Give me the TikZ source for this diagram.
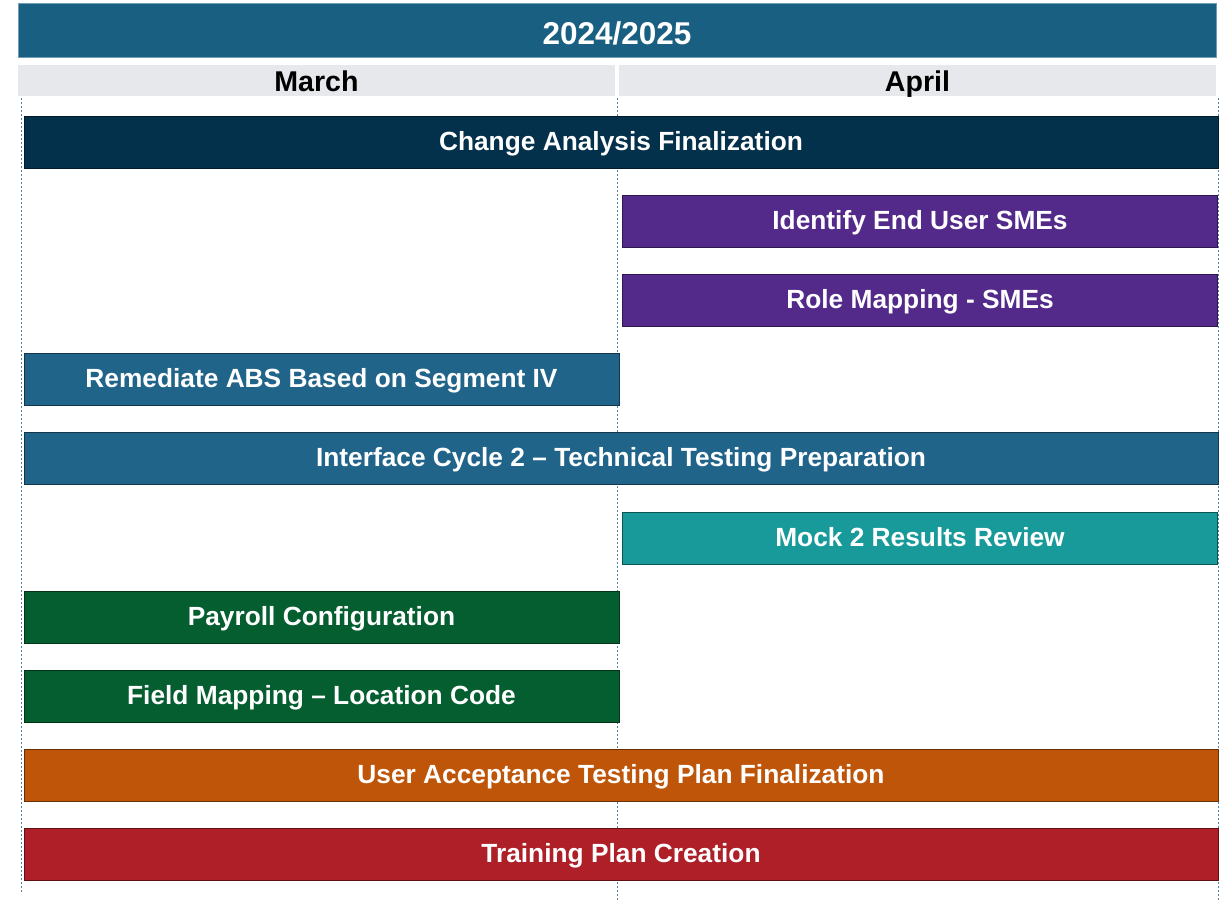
\documentclass[tikz,border=0pt]{standalone}
\usepackage{fontspec}
\setmainfont{Liberation Sans}
\usepackage{xcolor}
\definecolor{headerBlue}{HTML}{185F82}
\definecolor{headerEdge}{HTML}{6E9DB6}
\definecolor{headerGrey}{HTML}{E6E8EB}
\definecolor{gridLine}{HTML}{4F86A3}
\definecolor{barNavy}{HTML}{03304B}
\definecolor{barPurple}{HTML}{53298A}
\definecolor{barSteel}{HTML}{21648A}
\definecolor{barTeal}{HTML}{18999A}
\definecolor{barGreen}{HTML}{055E30}
\definecolor{barOrange}{HTML}{BE5508}
\definecolor{barRed}{HTML}{AE1F28}
\usetikzlibrary{calc, positioning}

\tikzset{
  taskbar/.style={fill=#1, draw=#1!55!black, line width=1pt, inner sep=0pt, outer sep=0pt,
    minimum height=52pt, text=white, text height=17.4pt, text depth=0pt,
    font=\fontsize{26.3}{30}\selectfont\bfseries},
  fullbar/.style={taskbar=#1, minimum width=1194pt},
  halfbar/.style={taskbar=#1, minimum width=595pt},
  monthcell/.style={fill=headerGrey, inner sep=0pt, minimum width=597pt, minimum height=31pt,
    text height=21pt, text depth=0pt,
    font=\fontsize{28.6}{30}\selectfont\bfseries},
  gridrule/.style={gridLine, line width=1pt, dash pattern=on 2pt off 2pt}
}

\begin{document}
\begin{tikzpicture}[x=1pt, y=-1pt]
  \useasboundingbox (0,0) rectangle (1230,903);

  % month dividers
  \draw[gridrule] (21,98) -- (21,893);
  \draw[gridrule] (617,98) -- (617,900);
  \draw[gridrule] (1218,98) -- (1218,900);

  % header
  \node[fill=headerBlue, draw=headerEdge, line width=1pt, inner sep=0pt,
        minimum width=1198pt, minimum height=54pt, text=white,
        text height=28.6pt, text depth=0pt,
        font=\fontsize{31.5}{34}\selectfont\bfseries] (year) at (617,30) {2024/2025};
  \node[monthcell] (march) at (316.5,80.5) {March};
  \node[monthcell] (april) at (917.5,80.5) {April};

  % tasks
  \node[fullbar=barNavy] (changeAnalysis) at (621,142) {Change Analysis Finalization};
  \node[halfbar=barPurple] (endUserSmes) at (920,221) {Identify End User SMEs};
  \node[halfbar=barPurple] (roleMapping) at (920,300) {Role Mapping - SMEs};
  \node[halfbar=barSteel] (remediateAbs) at (321.5,379) {Remediate ABS Based on Segment IV};
  \node[fullbar=barSteel] (interfaceCycle) at (621,458) {Interface Cycle 2 -- Technical Testing Preparation};
  \node[halfbar=barTeal] (mockReview) at (920,538) {Mock 2 Results Review};
  \node[halfbar=barGreen] (payrollConfig) at (321.5,617) {Payroll Configuration};
  \node[halfbar=barGreen] (fieldMapping) at (321.5,696) {Field Mapping -- Location Code};
  \node[fullbar=barOrange] (uatPlan) at (621,775) {User Acceptance Testing Plan Finalization};
  \node[fullbar=barRed] (trainingPlan) at (621,854) {Training Plan Creation};
\end{tikzpicture}
\end{document}
